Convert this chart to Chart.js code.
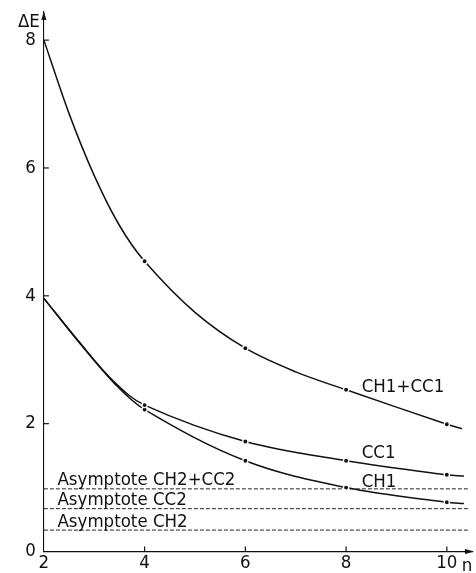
<!DOCTYPE html>
<html>
<head>
<meta charset="utf-8">
<script src="https://cdn.jsdelivr.net/npm/chart.js@4/dist/chart.umd.min.js"></script>
<style>
    html, body { margin: 0; padding: 0; background: #fff; }
    #wrap { width: 476px; height: 573px; position: relative; }
</style>
</head>
<body>
<div id="wrap"><canvas id="energyChart"></canvas></div>
<script>
// values
const nSum = [2, 2.5, 3, 3.5, 4, 5, 6, 7, 8, 10, 10.3];
const dESum = [8.0, 6.85, 5.88, 5.1, 4.54, 3.74, 3.18, 2.81, 2.53, 1.99, 1.92];
const nCC1 = [2, 2.7, 3.4, 4, 6, 8, 10, 10.34];
const dECC1 = [3.96, 3.28, 2.65, 2.29, 1.72, 1.42, 1.20, 1.18];
const nCH1 = [2, 2.7, 3.4, 4, 6, 8, 10, 10.34];
const dECH1 = [3.96, 3.27, 2.63, 2.22, 1.42, 1.00, 0.77, 0.75];
const markedN = [4, 6, 8, 10];

const asymptoteNames = ['Asymptote CH2+CC2', 'Asymptote CC2', 'Asymptote CH2'];
const asymptoteValues = [0.98, 0.67, 0.335];
const asymptoteN = [2, 10.42];

const xTicks = [2, 4, 6, 8, 10];
const yTicks = [0, 2, 4, 6, 8];

// label anchors (data coordinates)
const curveLabels = [
    { text: 'CH1+CC1', n: 8.31, v: 2.50 },
    { text: 'CC1', n: 8.31, v: 1.47 },
    { text: 'CH1', n: 8.31, v: 1.01 }
];
const asymptoteLabelN = 2.27;
const asymptoteLabelV = [1.045, 0.73, 0.39];

const FONT = '"DejaVu Sans Condensed", "DejaVu Sans", sans-serif';
const INK = '#111';

function toPoints(ns, vs) {
    return ns.map(function(n, i) { return { x: n, y: vs[i] }; });
}

function curve(ns, vs) {
    return {
        data: toPoints(ns, vs),
        borderColor: INK,
        borderWidth: 1.5,
        tension: 0.35,
        fill: false,
        pointRadius: function(ctx) {
            const p = ctx.raw;
            return p && markedN.includes(p.x) ? 2.6 : 0;
        },
        pointBackgroundColor: INK,
        pointBorderColor: '#fff',
        pointBorderWidth: 1.3
    };
}

const datasets = [curve(nSum, dESum), curve(nCC1, dECC1), curve(nCH1, dECH1)];
asymptoteValues.forEach(function(v) {
    datasets.push({
        data: asymptoteN.map(function(n) { return { x: n, y: v }; }),
        borderColor: '#222',
        borderWidth: 1,
        borderDash: [4, 2],
        pointRadius: 0,
        fill: false
    });
});

// inward ticks, arrow heads and free text
const decor = {
    id: 'decor',
    afterDraw: function(chart) {
        const ctx = chart.ctx;
        const x = chart.scales.x, y = chart.scales.y;
        const left = x.getPixelForValue(2), bottom = y.getPixelForValue(0);
        ctx.save();
        ctx.strokeStyle = INK;
        ctx.fillStyle = INK;
        ctx.lineWidth = 1.2;
        yTicks.slice(1).forEach(function(v) {
            const py = y.getPixelForValue(v);
            ctx.beginPath(); ctx.moveTo(left, py); ctx.lineTo(left + 5, py); ctx.stroke();
        });
        xTicks.slice(1).forEach(function(n) {
            const px = x.getPixelForValue(n);
            ctx.beginPath(); ctx.moveTo(px, bottom); ctx.lineTo(px, bottom - 5); ctx.stroke();
        });
        // arrows
        const top = chart.chartArea.top, right = chart.chartArea.right;
        ctx.beginPath();
        ctx.moveTo(left, top - 1); ctx.lineTo(left - 2.5, top + 8); ctx.lineTo(left + 2.5, top + 8);
        ctx.closePath(); ctx.fill();
        ctx.beginPath();
        ctx.moveTo(right + 2, bottom); ctx.lineTo(right - 7, bottom - 2.5); ctx.lineTo(right - 7, bottom + 2.5);
        ctx.closePath(); ctx.fill();

        ctx.font = '18.5px ' + FONT;
        ctx.textBaseline = 'alphabetic';
        ctx.textAlign = 'left';
        curveLabels.forEach(function(l) {
            ctx.fillText(l.text, x.getPixelForValue(l.n), y.getPixelForValue(l.v));
        });
        asymptoteNames.forEach(function(t, i) {
            ctx.fillText(t, x.getPixelForValue(asymptoteLabelN), y.getPixelForValue(asymptoteLabelV[i]));
        });
        ctx.textAlign = 'right';
        ctx.fillText('ΔE', left - 4, 27);
        ctx.textAlign = 'center';
        ctx.fillText('n', 467, 571);
        ctx.restore();
    }
};

new Chart(document.getElementById('energyChart').getContext('2d'), {
    type: 'line',
    data: { datasets: datasets },
    options: {
        responsive: true,
        maintainAspectRatio: false,
        animation: false,
        layout: { padding: { left: 17.3, right: 4, top: 12, bottom: -2.7 } },
        plugins: { legend: { display: false }, tooltip: { enabled: false } },
        scales: {
            x: {
                type: 'linear',
                min: 2,
                max: 10.5,
                border: { color: INK, width: 1.3 },
                grid: { drawOnChartArea: false, drawTicks: false },
                ticks: {
                    stepSize: 2,
                    includeBounds: false,
                    padding: 1,
                    color: INK,
                    font: { family: FONT, size: 18.5 }
                }
            },
            y: {
                min: 0,
                max: 8.44,
                border: { color: INK, width: 1.1 },
                grid: { drawOnChartArea: false, drawTicks: false },
                ticks: {
                    stepSize: 2,
                    includeBounds: false,
                    padding: 8,
                    color: INK,
                    font: { family: FONT, size: 18.5, lineHeight: 0.4 }
                }
            }
        }
    },
    plugins: [decor]
});
</script>
</body>
</html>
